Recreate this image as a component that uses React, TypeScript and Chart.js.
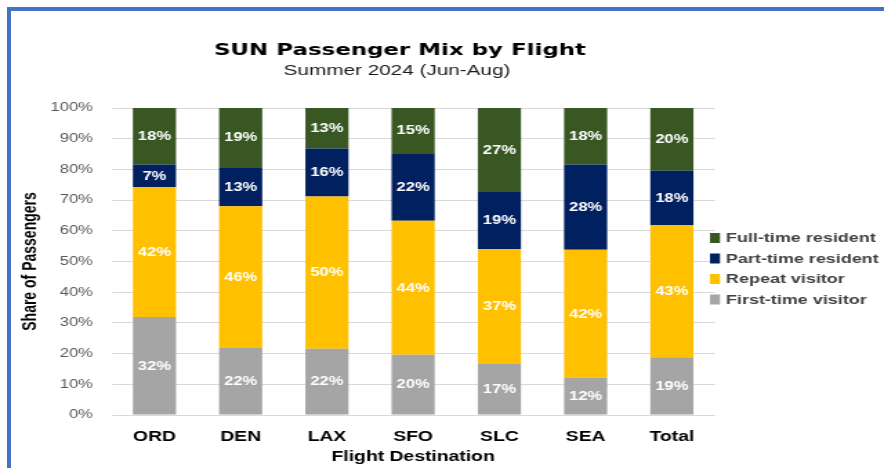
import React, { useEffect, useRef } from "react";
import { Chart, registerables } from "chart.js";

Chart.register(...registerables);

const CATEGORIES = ["ORD", "DEN", "LAX", "SFO", "SLC", "SEA", "Total"];
const FIRST_TIME = [31.9, 21.8, 21.6, 19.6, 16.6, 12.2, 18.8];
const REPEAT = [42.4, 46.2, 49.6, 43.7, 37.4, 41.6, 43.1];
const PART_TIME = [7.3, 12.7, 15.6, 22.0, 18.6, 27.8, 17.7];
const FULL_TIME = [18.4, 19.3, 13.2, 14.7, 27.4, 18.4, 20.4];
const SERIES_NAMES = ["First-time visitor", "Repeat visitor", "Part-time resident", "Full-time resident"];
const SERIES_COLORS = ["#A5A5A5", "#FFC000", "#002060", "#385723"];
const TITLE = "SUN Passenger Mix by Flight";
const SUBTITLE = "Summer 2024 (Jun-Aug)";
const Y_TITLE = "Share of Passengers";
const X_TITLE = "Flight Destination";

const W = 640;
const H = 472;
const SX = 884 / W;
const FONT = "'Liberation Sans', Arial, sans-serif";

const decorPlugin = {
  id: "decor",
  afterDatasetsDraw(chart: any) {
    const ctx = chart.ctx;
    ctx.save();
    ctx.fillStyle = "#FFFFFF";
    ctx.font = `bold 12px ${FONT}`;
    ctx.textAlign = "center";
    ctx.textBaseline = "middle";
    chart.data.datasets.forEach((ds: any, di: number) => {
      const meta = chart.getDatasetMeta(di);
      meta.data.forEach((el: any, i: number) => {
        const v = ds.data[i];
        const cy = (el.y + el.base) / 2;
        ctx.fillText(Math.round(v) + "%", el.x, cy + 0.5);
      });
    });
    ctx.restore();
  },
  afterDraw(chart: any) {
    const ctx = chart.ctx;
    ctx.save();
    ctx.textAlign = "center";
    ctx.textBaseline = "middle";
    ctx.fillStyle = "#000000";
    ctx.font = `bold 16.6px 'DejaVu Sans', sans-serif`;
    ctx.fillText(TITLE, 400 / SX, 50.5);
    ctx.fillStyle = "#1a1a1a";
    ctx.font = `15px ${FONT}`;
    ctx.fillText(SUBTITLE, 397 / SX, 71);
    const rows = [238, 258.5, 279, 299.5];
    const ds = chart.data.datasets.slice().reverse();
    ctx.textAlign = "left";
    ctx.font = `bold 13px ${FONT}`;
    ds.forEach((d: any, i: number) => {
      const y = rows[i];
      ctx.fillStyle = d.backgroundColor;
      ctx.fillRect(710 / SX, y - 5, 10 / SX, 10);
      ctx.fillStyle = "#404040";
      ctx.fillText(d.label, 726 / SX, y + 0.5);
    });
    ctx.restore();
  },
};

export default function App() {
  const ref = useRef<HTMLCanvasElement>(null);

  useEffect(() => {
    if (!ref.current) return;
    const datasets = [FIRST_TIME, REPEAT, PART_TIME, FULL_TIME].map((data, i) => ({
      label: SERIES_NAMES[i],
      data,
      backgroundColor: SERIES_COLORS[i],
      borderWidth: 0,
      barPercentage: 0.5,
      categoryPercentage: 1,
    }));
    const chart = new Chart(ref.current, {
      type: "bar",
      data: { labels: CATEGORIES, datasets },
      options: {
        responsive: false,
        animation: false,
        devicePixelRatio: 1,
        layout: { padding: { top: 108, left: 0, right: W - 715 / SX, bottom: 0 } },
        plugins: {
          legend: { display: false },
          title: { display: false },
          tooltip: { enabled: false },
        },
        scales: {
          x: {
            stacked: true,
            grid: { display: false },
            border: { display: false },
            ticks: {
              color: "#000000",
              font: { family: FONT, size: 14, weight: "bold" },
              padding: 6,
            },
            title: {
              display: true,
              text: X_TITLE,
              color: "#000000",
              font: { family: FONT, size: 14, weight: "bold" },
              padding: { top: 0, bottom: 6.6 },
            },
            afterFit: (s: any) => {
              s.height = H - 415;
            },
          },
          y: {
            stacked: true,
            min: 0,
            max: 100,
            grid: { color: "#D9D9D9", lineWidth: 1, drawTicks: false },
            border: { display: false },
            ticks: {
              stepSize: 10,
              color: "#595959",
              font: { family: FONT, size: 12 },
              padding: 13.3,
              callback: (v: any) => v + "%",
            },
            title: {
              display: true,
              text: Y_TITLE,
              color: "#000000",
              font: { family: FONT, size: 14, weight: "bold" },
              padding: { top: 13.3, bottom: 0 },
            },
            afterFit: (s: any) => {
              s.width = 111.3 / SX;
            },
          },
        },
      },
      plugins: [decorPlugin],
    });
    return () => chart.destroy();
  }, []);

  return (
    <div
      style={{
        position: "fixed",
        left: 0,
        top: 0,
        width: 884,
        height: 472,
        background: "#FFFFFF",
        overflow: "hidden",
      }}
    >
      <div
        style={{
          position: "absolute",
          left: 7,
          top: 7,
          width: 900,
          height: 461,
          borderLeft: "4px solid #4472C4",
          borderTop: "4px solid #4472C4",
          boxSizing: "border-box",
        }}
      />
      <div
        style={{
          position: "absolute",
          left: 0,
          top: 0,
          width: W,
          height: H,
          transform: `scaleX(${SX})`,
          transformOrigin: "0 0",
        }}
      >
        <canvas ref={ref} width={W} height={H} style={{ width: W, height: H, display: "block" }} />
      </div>
    </div>
  );
}
